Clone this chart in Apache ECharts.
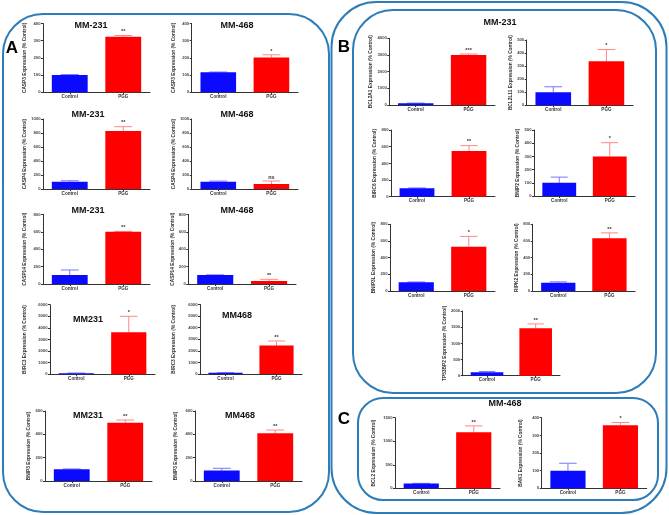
<!DOCTYPE html>
<html>
<head>
<meta charset="utf-8">
<script src="https://cdn.jsdelivr.net/npm/echarts@6/dist/echarts.min.js"></script>
<style>
html,body{margin:0;padding:0;background:#fff;}
#chart{width:669px;height:515px;}
</style>
</head>
<body>
<div id="chart"></div>
<script>
// ---------------- DATA ----------------
const categories = ['Control', 'PGG'];
const genes = ['CASP3','CASP3','CASP4','CASP4','CASP14','CASP14','BIRC3','BIRC3','BNIP3','BNIP3',
               'BCL2A1','BCL2L11','BIRC6','BNIP2','BNIP3L','RIPK2','TP53BP2','BCL2','BAK1'];
const controlMean = [100,116,104,104,103,103,100,100,100,90, 110,100,100,100,104,100,110, 100,100];
const controlErrTop = [103,118,118,113,161,105,110,110,103,109, 115,142,105,143,108,110,129, 105,142];
const pggMean = [323,203,829,71,601,34,3620,2450,500,409, 3000,338,548,300,532,632,1470, 1190,357];
const pggErrTop = [330,218,890,114,605,54,5000,2850,523,437, 3060,427,612,404,655,697,1600, 1325,373];
const significance = ['**','*','**','ns','**','**','*','**','**','**', '***','*','**','*','*','**','**', '**','*'];
const yMax = [400,400,1000,1000,800,800,6000,6000,600,600, 4000,500,800,500,800,800,2000, 1500,400];
const yStep = [100,100,200,200,200,200,1000,1000,200,200, 1000,100,200,100,200,200,500, 500,100];
const panelTitles = ['MM-231','MM-468','MM-231','MM-468','MM-231','MM-468','MM231','MM468','MM231','MM468','MM-231','MM-468'];
const panelLetters = ['A','B','C'];

// ---------------- LAYOUT ----------------
// [axisLeft, axisTop, axisRight, axisBottom, yNameCenterX]
const layout = [
  [43,23.5,150,92.3,25],[191.7,23.5,298,92.3,174],
  [43,119,150,189,25],[191.7,119,298,189,173.3],
  [43,214.4,150,284,25],[188.3,214.4,296,284,173.3],
  [50,304.7,155,374.3,25],[200,304.5,302,374,173.3],
  [45,411,152,481,30],[195,411,302,481,176],
  [389.3,38.3,495,105,372.7],[526.7,40,633,105.3,514.3],
  [391,130,495,196.7,374.3],[534,130,635,196,518.3],
  [390,224.3,495,291,374.3],[532.7,224.3,635,291,516.7],
  [462.7,311,560,375.7,445],
  [395,417.7,500,488.3,373.3],[541.7,417.7,646.7,488.3,521]
];
const titlePos = [[91,26],[237,26],[88,115],[237,115],[88,211],[237,211],[88,320],[237,316],[88,416],[240,416],[500,23],[505,404]];
const letterPos = [[12,48],[344,47],[344,419]];

const FONT = "'Liberation Sans', Arial, sans-serif";
const BORDER = '#2e7cb8';
const BLUE = '#0a0aff', RED = '#ff0000';
const BLUE_ERR = '#7676ff', RED_ERR = '#ff8686';

const grids = [], xAxes = [], yAxes = [], series = [];
genes.forEach((g, i) => {
  const [L, T, R, B, nx] = layout[i];
  grids.push({left: L, top: T, width: R - L, height: B - T, containLabel: false});
  xAxes.push({
    type: 'category', gridIndex: i, data: categories,
    axisLine: {lineStyle: {color: '#333', width: 1}},
    axisTick: {show: true, alignWithLabel: true, length: 2, lineStyle: {color: '#333'}},
    axisLabel: {fontSize: 4.6, fontWeight: 'bold', color: '#333', margin: 2, fontFamily: FONT}
  });
  yAxes.push({
    type: 'value', gridIndex: i, min: 0, max: yMax[i], interval: yStep[i],
    name: g + ' Expression (% Control)', nameLocation: 'middle', nameRotate: 90,
    nameGap: L - nx - 2.4,
    nameTextStyle: {fontSize: 4.8, fontWeight: 'bold', color: '#333', fontFamily: FONT},
    axisLine: {show: true, lineStyle: {color: '#333', width: 1}},
    axisTick: {show: true, length: 2, lineStyle: {color: '#333'}},
    splitLine: {show: false},
    axisLabel: {fontSize: 4.2, color: '#444', margin: 2.5, fontFamily: FONT, fontWeight: 'bold',
      formatter: v => String(v)}
  });
  series.push({
    type: 'bar', xAxisIndex: i, yAxisIndex: i, barWidth: '67%',
    data: [{value: controlMean[i], itemStyle: {color: BLUE}}, {value: pggMean[i], itemStyle: {color: RED}}],
    silent: true
  });
  series.push({
    type: 'custom', xAxisIndex: i, yAxisIndex: i, silent: true,
    data: [[0, controlMean[i], controlErrTop[i]], [1, pggMean[i], pggErrTop[i]]],
    renderItem: (params, api) => {
      const c = api.value(0), m = api.value(1), t = api.value(2);
      const p0 = api.coord([c, m]), p1 = api.coord([c, t]);
      const bw = api.size([1, 0])[0] * 0.67;
      const cap = bw * 0.5;
      const col = c === 0 ? BLUE_ERR : RED_ERR;
      const children = [
        {type: 'line', shape: {x1: p0[0], y1: p0[1], x2: p1[0], y2: p1[1]}, style: {stroke: col, lineWidth: 1}},
        {type: 'line', shape: {x1: p1[0] - cap / 2, y1: p1[1], x2: p1[0] + cap / 2, y2: p1[1]}, style: {stroke: col, lineWidth: 1}}
      ];
      if (c === 1) {
        children.push({type: 'text', style: {text: significance[i], x: p1[0], y: p1[1] - 0.8,
          textAlign: 'center', textVerticalAlign: 'bottom', font: 'bold 5.5px ' + FONT, fill: '#333'}});
      }
      return {type: 'group', children};
    }
  });
});

const graphics = [
  {type: 'rect', shape: {x: 3, y: 14, width: 326, height: 498, r: 40}, style: {fill: 'none', stroke: BORDER, lineWidth: 2}},
  {type: 'rect', shape: {x: 331.5, y: 2, width: 335, height: 511, r: 45}, style: {fill: 'none', stroke: BORDER, lineWidth: 2}},
  {type: 'rect', shape: {x: 353, y: 10, width: 303, height: 383, r: 40}, style: {fill: 'none', stroke: BORDER, lineWidth: 2}},
  {type: 'rect', shape: {x: 358, y: 398, width: 300, height: 102, r: 25}, style: {fill: 'none', stroke: BORDER, lineWidth: 2}}
];
panelTitles.forEach((t, k) => {
  graphics.push({type: 'text', x: titlePos[k][0], y: titlePos[k][1],
    style: {text: t, font: 'bold 9px ' + FONT, fill: '#111', textAlign: 'center', textVerticalAlign: 'middle'}});
});
panelLetters.forEach((t, k) => {
  graphics.push({type: 'text', x: letterPos[k][0], y: letterPos[k][1],
    style: {text: t, font: 'bold 17px ' + FONT, fill: '#000', textAlign: 'center', textVerticalAlign: 'middle'}});
});

const chart = echarts.init(document.getElementById('chart'), null, {renderer: 'canvas'});
chart.setOption({
  animation: false,
  backgroundColor: '#fff',
  grid: grids, xAxis: xAxes, yAxis: yAxes, series: series,
  graphic: graphics
});
</script>
</body>
</html>
